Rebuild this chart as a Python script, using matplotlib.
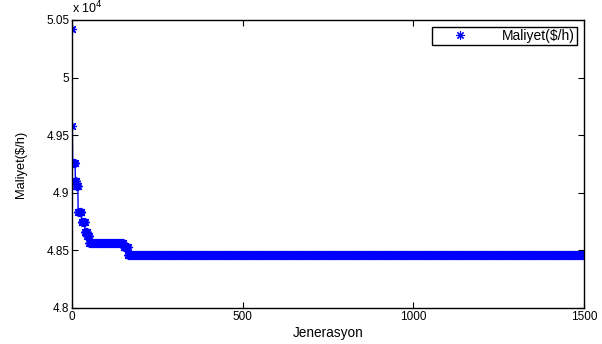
import numpy as np
import matplotlib
matplotlib.use("Agg")
import matplotlib.pyplot as plt
from matplotlib.ticker import FuncFormatter
from matplotlib.lines import Line2D

plt.rcParams['font.family'] = ['Liberation Sans', 'DejaVu Sans']

# step function: generation where each level starts, and the cost level
step_start = [0, 1, 2, 10, 13, 18, 28, 38, 45, 51, 151, 164]
step_cost = [50422, 49580, 49256, 49105, 49062, 48836, 48749, 48662, 48625, 48560, 48530, 48460]
n_gen = 1500

x_ticks = [0, 500, 1000, 1500]
y_ticks = [48000, 48500, 49000, 49500, 50000, 50500]

starts = step_start + [n_gen + 1]
gens = np.arange(0, n_gen + 1)
cost = np.repeat(step_cost, np.diff(starts))

ast = (8, 2, 0)
fig = plt.figure(figsize=(6.02, 3.44), dpi=100)
ax = fig.add_axes([0.1196, 0.1047, 0.8504, 0.8372])
ax.plot(gens, cost, '-', color='#0000ff', linewidth=1.0,
        marker=ast, markersize=6.5, markeredgewidth=0.9)
ax.set_xlim(0, 1500)
ax.set_ylim(48000, 50500)
ax.set_xticks(x_ticks)
ax.set_yticks(y_ticks)
ax.yaxis.set_major_formatter(FuncFormatter(lambda v, p: '%g' % (v / 1e4)))
ax.tick_params(direction='in', length=4, width=0.8, labelsize=8.5,
               top=True, right=True, pad=2)
for s in ax.spines.values():
    s.set_linewidth(1.0)
ax.set_xlabel('Jenerasyon', fontsize=9.8, labelpad=2)
ax.set_ylabel('Maliyet($/h)', fontsize=9.3, labelpad=14)
ax.text(0.0, 1.012, r'x 10$^{4}$', transform=ax.transAxes, fontsize=9,
        ha='left', va='bottom')
h = Line2D([], [], color='#0000ff', marker=ast, linestyle='none',
           markersize=6, markeredgewidth=0.8)
leg = ax.legend([h], ['Maliyet($/h)'], loc='upper right', fontsize=10,
                fancybox=False, framealpha=1, edgecolor='black',
                borderaxespad=0.5, handlelength=3.8, handletextpad=1.1,
                borderpad=0.15)
leg.get_frame().set_linewidth(1.0)
fig.savefig('out.png', dpi=100)
